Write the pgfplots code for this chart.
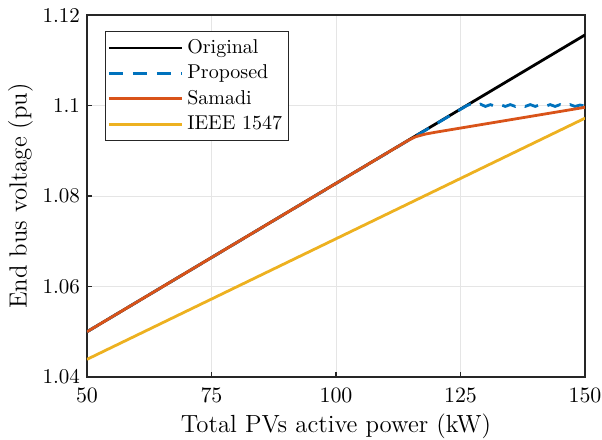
\documentclass[border=0pt]{standalone}
\usepackage{pgfplots}
\pgfplotsset{compat=1.18}
\definecolor{mblue}{rgb}{0,0.447,0.741}
\definecolor{mred}{rgb}{0.85,0.325,0.098}
\definecolor{myellow}{rgb}{0.929,0.694,0.125}
\begin{document}
\begin{tikzpicture}
\begin{axis}[
  scale only axis,
  width=249pt, height=181pt,
  xmin=50, xmax=150, ymin=1.04, ymax=1.12,
  xtick={50,75,100,125,150},
  ytick={1.04,1.06,1.08,1.1,1.12},
  yticklabels={1.04,1.06,1.08,1.1,1.12},
  tick label style={font=\fontsize{10.5}{12}\selectfont},
  xticklabel style={yshift=-2pt},
  xlabel style={font=\fontsize{12.4}{14}\selectfont, yshift=1pt},
  ylabel style={font=\fontsize{12.4}{14}\selectfont, yshift=-2pt},
  xlabel={Total PVs active power (kW)},
  ylabel={End bus voltage (pu)},
  grid=major,
  grid style={gray!20, line width=0.4pt},
  axis line style={line width=0.8pt, black!85},
  tick style={black!85, line width=0.8pt},
  tick align=inside,
  xtick pos=bottom, ytick pos=left,
  major tick length=2.5pt,
  legend style={at={(rel axis cs:0,1)}, xshift=9pt, yshift=-8pt, anchor=north west,
    draw=black!85, line width=0.5pt, font=\fontsize{10}{12}\selectfont, row sep=0.2pt,
    inner xsep=1pt, inner ysep=2pt},
  legend cell align=left,
  legend image code/.code={\draw[#1] (0pt,0pt) -- (36.5pt,0pt);},
  every axis plot/.append style={line width=1.4pt},
]
\addplot[black] coordinates {(50,1.0500) (150,1.1156)};
\addlegendentry{Original}
\addplot[mblue, dash pattern=on 7pt off 5pt] coordinates {
(50,1.0500) (126.3,1.1000) (127,1.1003) (128,1.0999) (129,1.1003) (130,1.0998)
(131,1.1002) (132,1.0998) (133,1.1002) (134,1.0998) (135,1.1002) (136,1.0998)
(137,1.1002) (138,1.0998) (139,1.1002) (140,1.0998) (141,1.1002) (142,1.0998)
(143,1.1002) (144,1.0998) (145,1.1002) (146,1.0998) (147,1.1002) (148,1.0998)
(149,1.1001) (150,1.0999)};
\addlegendentry{Proposed}
\addplot[mred] coordinates {(50,1.0500) (114.5,1.0923) (116,1.0931) (118,1.0937) (120,1.0941) (150,1.0996)};
\addlegendentry{Samadi}
\addplot[myellow] coordinates {(50,1.0439) (150,1.0972)};
\addlegendentry{IEEE 1547}
\end{axis}
\pgfresetboundingbox
\path (current axis.south west) ++(-43.5pt,-31.5pt) rectangle ++(301pt,220pt);
\end{tikzpicture}
\end{document}
